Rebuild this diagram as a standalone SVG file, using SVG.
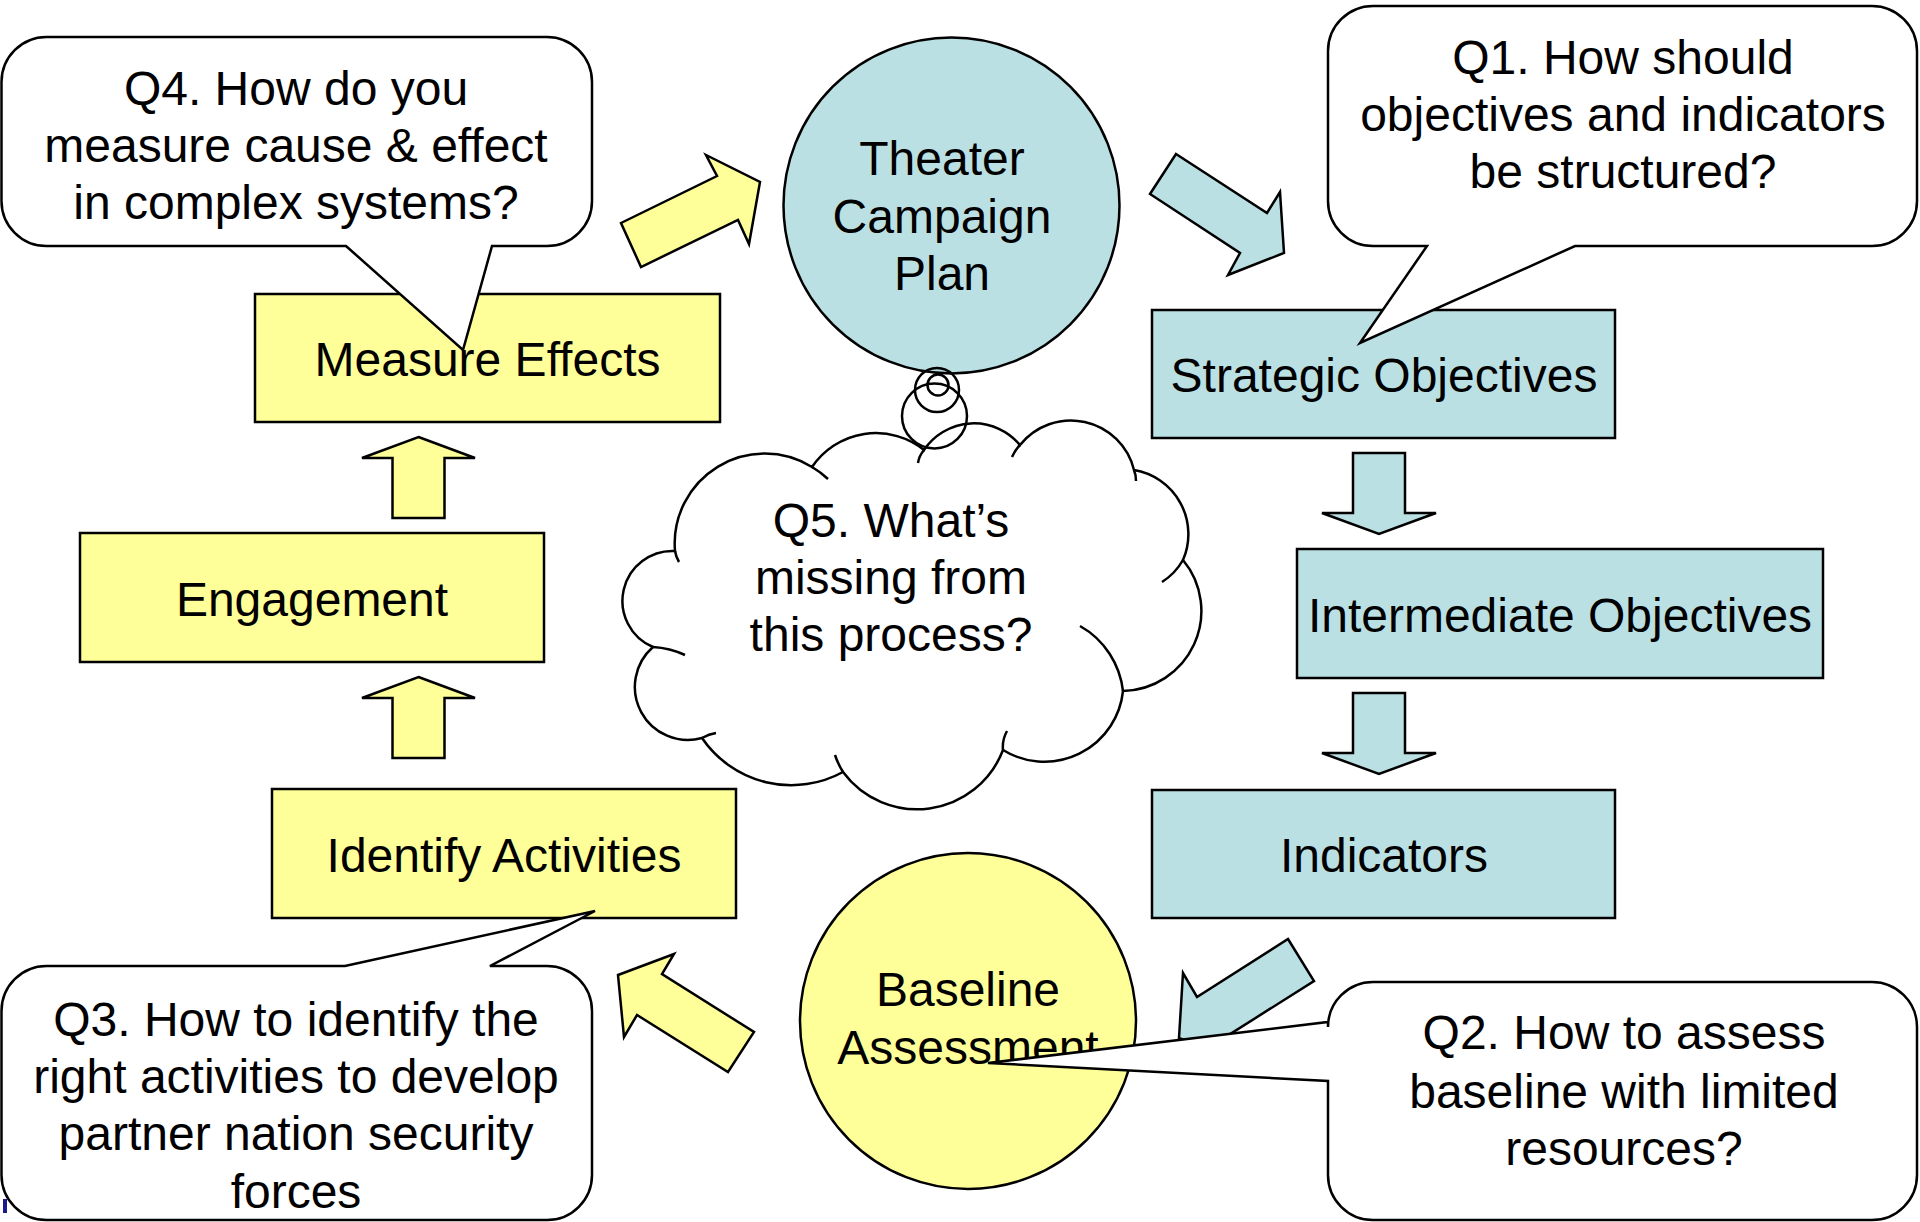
<svg xmlns="http://www.w3.org/2000/svg" width="1920" height="1222" viewBox="0 0 1920 1222">
<style>
.t{font-family:"Liberation Sans",Arial,sans-serif;font-size:48px;fill:#000;text-anchor:middle}
.y{fill:#FFFF99;stroke:#000;stroke-width:2.5}
.b{fill:#BBE0E3;stroke:#000;stroke-width:2.5}
.w{fill:#fff;stroke:#000;stroke-width:2.5;stroke-linejoin:miter}
.o{fill:none;stroke:#000;stroke-width:2.5}
</style>
<rect width="1920" height="1222" fill="#fff"/>
<g id="connectors">
<polygon class="y" points="621,223 717,176 706,155 760,182 749,244 738,220 641,267"/>
<polygon class="b" points="1176,154 1267,213 1280,192 1284,253 1228,275 1240,253 1150,194"/>
<polygon class="b" points="1353,453 1405,453 1405,513 1436,513 1379,534 1322,513 1353,513"/>
<polygon class="b" points="1353,693 1405,693 1405,753 1436,753 1379,774 1322,753 1353,753"/>
<polygon class="b" points="1288,939 1314,981 1224,1038 1239,1062 1179,1038 1183,973 1197,997"/>
<polygon class="y" points="618,975 674,954 662,974 754,1032 728,1072 637,1015 624,1037"/>
<polygon class="y" points="418.5,437 475,458 444.5,458 444.5,518 392.5,518 392.5,458 362,458"/>
<polygon class="y" points="418.5,677 475,698 444.5,698 444.5,758 392.5,758 392.5,698 362,698"/>
</g>
<g id="theater-campaign-plan">
<circle class="b" cx="951.5" cy="205.5" r="168"/>
<text class="t" x="942" y="175">Theater</text>
<text class="t" x="942" y="233">Campaign</text>
<text class="t" x="942" y="290">Plan</text>
</g>
<g id="strategic-objectives">
<rect class="b" x="1152" y="310" width="463" height="128"/>
<text class="t" x="1384" y="392">Strategic Objectives</text>
</g>
<g id="intermediate-objectives">
<rect class="b" x="1297" y="549" width="526" height="129"/>
<text class="t" x="1560" y="632">Intermediate Objectives</text>
</g>
<g id="indicators">
<rect class="b" x="1152" y="790" width="463" height="128"/>
<text class="t" x="1384" y="872">Indicators</text>
</g>
<g id="baseline-assessment">
<circle class="y" cx="968" cy="1021" r="168"/>
<text class="t" x="968" y="1006">Baseline</text>
<text class="t" x="968" y="1064">Assessment</text>
</g>
<g id="identify-activities">
<rect class="y" x="272" y="789" width="464" height="129"/>
<text class="t" x="504" y="872">Identify Activities</text>
</g>
<g id="engagement">
<rect class="y" x="80" y="533" width="464" height="129"/>
<text class="t" x="312" y="616">Engagement</text>
</g>
<g id="measure-effects">
<rect class="y" x="255" y="294" width="465" height="128"/>
<text class="t" x="487.5" y="376">Measure Effects</text>
</g>
<g id="q5-cloud">
<path class="w" d="M675,551 A90,90 0 0 1 812,467 A77,77 0 0 1 924,450 A60,60 0 0 1 1020,445 A65,65 0 0 1 1134,470 A65,65 0 0 1 1183,560 A80,80 0 0 1 1123,691 A79,79 0 0 1 1003,750 A92,92 0 0 1 843,772 A108,108 0 0 1 702,738 A53,53 0 0 1 653,647 A50,50 0 0 1 675,551 Z"/>
<path class="o" d="M812,467 A90,90 0 0 1 828,479 M918,463 Q919,456 924,450 M1012,457 Q1015,450 1020,445 M1134,470 Q1136,475 1136,481 M1183,560 A63,63 0 0 1 1162,582 M1080,626 C1105,640 1120,665 1123,691 M1003,750 Q1002,740 1007,731 M843,772 Q838,764 835,755 M716,733 Q709,734 702,738 M653,647 Q670,648 685,655 M679,562 Q676,557 675,551"/>
<circle class="o" cx="938" cy="385" r="10.5"/>
<circle class="o" cx="937" cy="390" r="22"/>
<circle class="o" cx="934.5" cy="416" r="32.5"/>
<text class="t" x="891" y="537">Q5. What’s</text>
<text class="t" x="891" y="594">missing from</text>
<text class="t" x="891" y="651">this process?</text>
</g>
<g id="q4-callout">
<path class="w" d="M46.5,37 H547 A45,45 0 0 1 592,82 V201 A45,45 0 0 1 547,246 H492 L463,350 L346,246 H46.5 A45,45 0 0 1 1.5,201 V82 A45,45 0 0 1 46.5,37 Z"/>
<text class="t" x="296" y="105">Q4. How do you</text>
<text class="t" x="296" y="162">measure cause &amp; effect</text>
<text class="t" x="296" y="219">in complex systems?</text>
</g>
<g id="q1-callout">
<path class="w" d="M1373,6 H1872 A45,45 0 0 1 1917,51 V201 A45,45 0 0 1 1872,246 H1575 L1360,343 L1427,246 H1373 A45,45 0 0 1 1328,201 V51 A45,45 0 0 1 1373,6 Z"/>
<text class="t" x="1623" y="74">Q1. How should</text>
<text class="t" x="1623" y="131">objectives and indicators</text>
<text class="t" x="1623" y="188">be structured?</text>
</g>
<g id="q2-callout">
<path class="w" d="M1373,982 H1872 A45,45 0 0 1 1917,1027 V1175 A45,45 0 0 1 1872,1220 H1373 A45,45 0 0 1 1328,1175 V1081 L988,1063 L1328,1022 V1027 A45,45 0 0 1 1373,982 Z"/>
<text class="t" x="1624" y="1049">Q2. How to assess</text>
<text class="t" x="1624" y="1108">baseline with limited</text>
<text class="t" x="1624" y="1165">resources?</text>
</g>
<g id="q3-callout">
<path class="w" d="M46.5,966 H345 L595,911 L490,966 H547 A45,45 0 0 1 592,1011 V1175 A45,45 0 0 1 547,1220 H46.5 A45,45 0 0 1 1.5,1175 V1011 A45,45 0 0 1 46.5,966 Z"/>
<text class="t" x="296" y="1036">Q3. How to identify the</text>
<text class="t" x="296" y="1093">right activities to develop</text>
<text class="t" x="296" y="1150">partner nation security</text>
<text class="t" x="296" y="1208">forces</text>
</g>
<rect x="3" y="1199" width="4" height="14" fill="#1a1a8c"/>
</svg>
